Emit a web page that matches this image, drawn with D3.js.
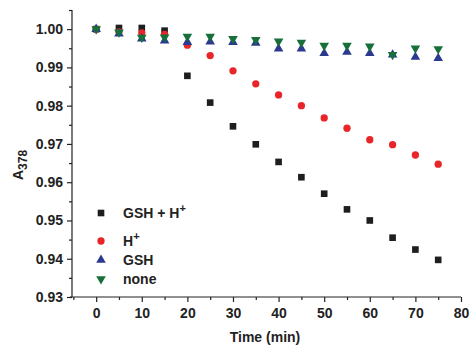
<!DOCTYPE html>
<html>
<head>
<meta charset="utf-8">
<script src="https://cdn.jsdelivr.net/npm/d3@7"></script>
<style>
  body { margin: 0; background: #fff; }
  text { font-family: "Liberation Sans", Arial, sans-serif; font-weight: bold; fill: #222; }
  .axis path, .axis line { stroke: #222; stroke-width: 1.2; }
</style>
</head>
<body>
<div id="body"></div>
<script>
var times = [0, 5, 10, 15, 20, 25, 30, 35, 40, 45, 50, 55, 60, 65, 70, 75];
var gshH = [1.0000, 1.0003, 1.0003, 0.9996, 0.9878, 0.9808, 0.9746, 0.9699, 0.9653, 0.9613, 0.9570, 0.9529, 0.9500, 0.9455, 0.9424, 0.9397];
var hOnly = [1.0000, 0.9993, 0.9990, 0.9986, 0.9958, 0.9931, 0.9891, 0.9857, 0.9828, 0.9800, 0.9768, 0.9741, 0.9711, 0.9698, 0.9671, 0.9647];
var gsh = [1.0000, 0.9988, 0.9975, 0.9970, 0.9966, 0.9967, 0.9966, 0.9964, 0.9949, 0.9949, 0.9937, 0.9940, 0.9937, 0.9933, 0.9927, 0.9924];
var none = [1.0000, 0.9992, 0.9978, 0.9979, 0.9981, 0.9981, 0.9975, 0.9972, 0.9968, 0.9965, 0.9957, 0.9957, 0.9955, 0.9933, 0.9950, 0.9948];
var yTicks = [0.93, 0.94, 0.95, 0.96, 0.97, 0.98, 0.99, 1.00];
var xTicks = [0, 10, 20, 30, 40, 50, 60, 70, 80];

var series = [
  {name: "GSH + H", sup: "+", values: gshH, color: "#1e1e1e", shape: "square"},
  {name: "H", sup: "+", values: hOnly, color: "#e8262a", shape: "circle"},
  {name: "GSH", sup: "", values: gsh, color: "#2b3a8f", shape: "up"},
  {name: "none", sup: "", values: none, color: "#17703a", shape: "down"}
];

var width = 470, height = 346;
var margin = {top: 10, right: 9, bottom: 49, left: 72};

var x = d3.scaleLinear().domain([-5.3, 80]).range([margin.left, width - margin.right]);
var y = d3.scaleLinear().domain([0.93, 1.005]).range([height - margin.bottom, margin.top]);

var svg = d3.select("#body").append("svg")
    .attr("width", width)
    .attr("height", height);

// minor ticks
svg.append("g")
    .attr("class", "axis")
    .attr("transform", "translate(" + margin.left + ",0)")
    .call(d3.axisLeft(y).tickValues([0.935, 0.945, 0.955, 0.965, 0.975, 0.985, 0.995, 1.005]).tickSize(3).tickFormat(""))
    .select(".domain").remove();
svg.append("g")
    .attr("class", "axis")
    .attr("transform", "translate(0," + (height - margin.bottom) + ")")
    .call(d3.axisBottom(x).tickValues([-5, 5, 15, 25, 35, 45, 55, 65, 75]).tickSize(3).tickFormat(""))
    .select(".domain").remove();

// major axes
var yAxis = svg.append("g")
    .attr("class", "axis")
    .attr("transform", "translate(" + margin.left + ",0)")
    .call(d3.axisLeft(y).tickValues(yTicks).tickSize(5).tickPadding(4).tickFormat(d3.format(".2f")));
yAxis.select(".domain").attr("d", "M0," + y(0.93) + "V" + margin.top);
yAxis.selectAll("text").style("font-size", "14px");

var xAxis = svg.append("g")
    .attr("class", "axis")
    .attr("transform", "translate(0," + (height - margin.bottom) + ")")
    .call(d3.axisBottom(x).tickValues(xTicks).tickSize(5).tickPadding(6));
xAxis.select(".domain").attr("d", "M" + (margin.left - 2) + ",0H" + x(80));
xAxis.selectAll("text").style("font-size", "14px");

svg.append("text")
    .attr("x", 265)
    .attr("y", 342)
    .attr("text-anchor", "middle")
    .style("font-size", "14px")
    .text("Time (min)");

var yl = svg.append("text")
    .attr("transform", "translate(23,165) rotate(-90)")
    .attr("text-anchor", "middle")
    .style("font-size", "14px");
yl.append("tspan").text("A");
yl.append("tspan").attr("dy", 4).style("font-size", "12px").text("378");

var sym = {
  square: d3.symbol().type(d3.symbolSquare).size(44),
  circle: d3.symbol().type(d3.symbolCircle).size(42),
  up: d3.symbol().type(d3.symbolTriangle).size(40),
  down: d3.symbol().type(d3.symbolTriangle).size(40)
};

series.forEach(function(s) {
  svg.append("g").selectAll("path")
      .data(s.values)
    .enter().append("path")
      .attr("d", sym[s.shape])
      .attr("fill", s.color)
      .attr("transform", function(d, i) {
        return "translate(" + x(times[i]) + "," + y(d) + ")" + (s.shape == "down" ? " rotate(180)" : "");
      });
});

// legend
var rowY = [213, 241, 260, 279];
var legend = svg.append("g").selectAll("g")
    .data(series)
  .enter().append("g")
    .attr("transform", function(d, i) { return "translate(101," + rowY[i] + ")"; });

legend.append("path")
    .attr("d", function(d) { return sym[d.shape](); })
    .attr("fill", function(d) { return d.color; })
    .attr("transform", function(d) { return d.shape == "down" ? "rotate(180)" : null; });

var lt = legend.append("text")
    .attr("x", 22)
    .attr("y", 5)
    .style("font-size", "14px");
lt.append("tspan").text(function(d) { return d.name; });
lt.append("tspan")
    .attr("dy", -6)
    .style("font-size", "11px")
    .text(function(d) { return d.sup; });
</script>
</body>
</html>
